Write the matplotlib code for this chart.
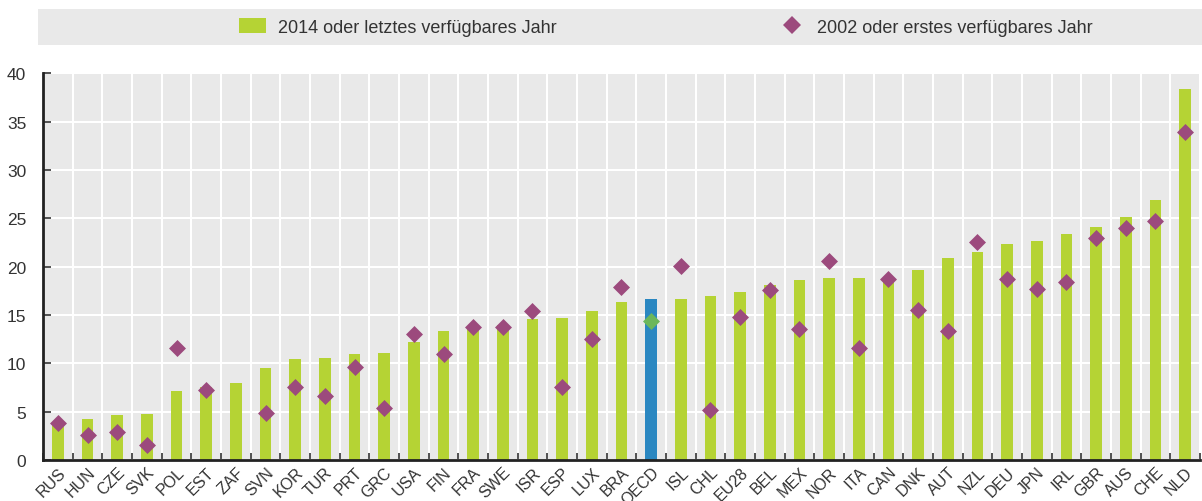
#!/usr/bin/env python3
""" Bars with markers """
import numpy as np
import matplotlib
matplotlib.use('Agg')
import matplotlib.pyplot as plt
from matplotlib.patches import Rectangle, Patch
from matplotlib.lines import Line2D

countries = ['RUS', 'HUN', 'CZE', 'SVK', 'POL', 'EST', 'ZAF', 'SVN', 'KOR',
             'TUR', 'PRT', 'GRC', 'USA', 'FIN', 'FRA', 'SWE', 'ISR', 'ESP',
             'LUX', 'BRA', 'OECD', 'ISL', 'CHL', 'EU28', 'BEL', 'MEX', 'NOR',
             'ITA', 'CAN', 'DNK', 'AUT', 'NZL', 'DEU', 'JPN', 'IRL', 'GBR',
             'AUS', 'CHE', 'NLD']
latest = [3.7, 4.2, 4.7, 4.8, 7.1, 7.5, 8.0, 9.5, 10.4, 10.55, 10.95, 11.1,
          12.2, 13.3, 13.9, 14.0, 14.6, 14.7, 15.45, 16.35, 16.65, 16.65,
          16.95, 17.4, 18.1, 18.6, 18.8, 18.8, 18.9, 19.65, 20.9, 21.5, 22.3,
          22.7, 23.4, 24.1, 25.1, 26.9, 38.4]
first = [3.8, 2.6, 2.9, 1.55, 11.6, 7.2, np.nan, 4.9, 7.5, 6.6, 9.65, 5.35,
         13.0, 11.0, 13.8, 13.8, 15.45, 7.55, 12.5, 17.9, 14.4, 20.1, 5.17,
         14.8, 17.6, 13.5, 20.55, 11.55, 18.75, 15.5, 13.3, 22.5, 18.75,
         17.7, 18.45, 23.0, 24.0, 24.7, 33.95]
yticks = [0, 5, 10, 15, 20, 25, 30, 35, 40]
legend_labels = ['2014 oder letztes verfügbares Jahr',
                 '2002 oder erstes verfügbares Jahr']

GREEN = '#b5d334'
PURPLE = '#9c4a7d'
BLUE = '#2a87c1'
LIGHTGREEN = '#6cb75a'
BG = '#e9e9e9'
TXT = '#333333'

plt.rcParams['font.family'] = ['Liberation Sans', 'DejaVu Sans']

fig = plt.figure(figsize=(12.02, 5.02), dpi=100)
ax = fig.add_axes([0.0358, 0.0817, 0.9625, 0.7703])
ax.set_facecolor(BG)

x = np.arange(len(countries))
is_oecd = np.array([c == 'OECD' for c in countries])
colors = [BLUE if o else GREEN for o in is_oecd]
ax.bar(x, latest, width=0.4, color=colors, zorder=3)

first_arr = np.array(first)
ax.scatter(x[~is_oecd], first_arr[~is_oecd], marker='D', s=75,
           color=PURPLE, zorder=4, linewidths=0)
ax.scatter(x[is_oecd], first_arr[is_oecd], marker='D', s=75,
           color=LIGHTGREEN, zorder=4, linewidths=0)

ax.set_xlim(-0.5, len(countries) - 0.5)
ax.set_ylim(0, 40)
ax.set_yticks(yticks)
ax.set_xticks(x)
ax.set_xticklabels(countries, rotation=45, ha='right', rotation_mode='anchor',
                   fontsize=11.5, color=TXT)
ax.set_xticks(np.arange(-0.5, len(countries), 1), minor=True)
ax.tick_params(axis='x', which='major', length=0, pad=3)
ax.tick_params(axis='x', which='minor', direction='in', length=5,
               width=1.2, color='#333333')
ax.tick_params(axis='y', direction='in', length=6, width=1.2,
               color='#333333', labelsize=12.5, labelcolor=TXT, pad=12)

ax.grid(True, axis='y', color='white', linewidth=1.5, zorder=1)
ax.grid(True, axis='x', which='minor', color='white', linewidth=1.5, zorder=1)
ax.grid(False, axis='x', which='major')

for side in ['top', 'right']:
    ax.spines[side].set_visible(False)
for side in ['left', 'bottom']:
    ax.spines[side].set_color('#222222')
    ax.spines[side].set_linewidth(2)
    ax.spines[side].set_zorder(5)

# legend band
fig.patches.append(Rectangle((38 / 1202, 1 - 46 / 502), 1 - 38 / 1202,
                             36 / 502, transform=fig.transFigure,
                             facecolor=BG, edgecolor='none', zorder=0))
leg_kw = dict(loc='center left', frameon=False, fontsize=13,
              handlelength=1.5, handleheight=0.9, handletextpad=0.65,
              borderpad=0, borderaxespad=0, labelcolor=TXT)
fig.legend([Patch(facecolor=GREEN, edgecolor='none')], legend_labels[:1],
           bbox_to_anchor=(239 / 1202, 1 - 28 / 502), **leg_kw)
fig.legend([Line2D([], [], marker='D', linestyle='none', color=PURPLE,
                   markersize=9, markeredgewidth=0)], legend_labels[1:],
           bbox_to_anchor=(778 / 1202, 1 - 28 / 502), **leg_kw)

fig.savefig('out.png', dpi=100)
